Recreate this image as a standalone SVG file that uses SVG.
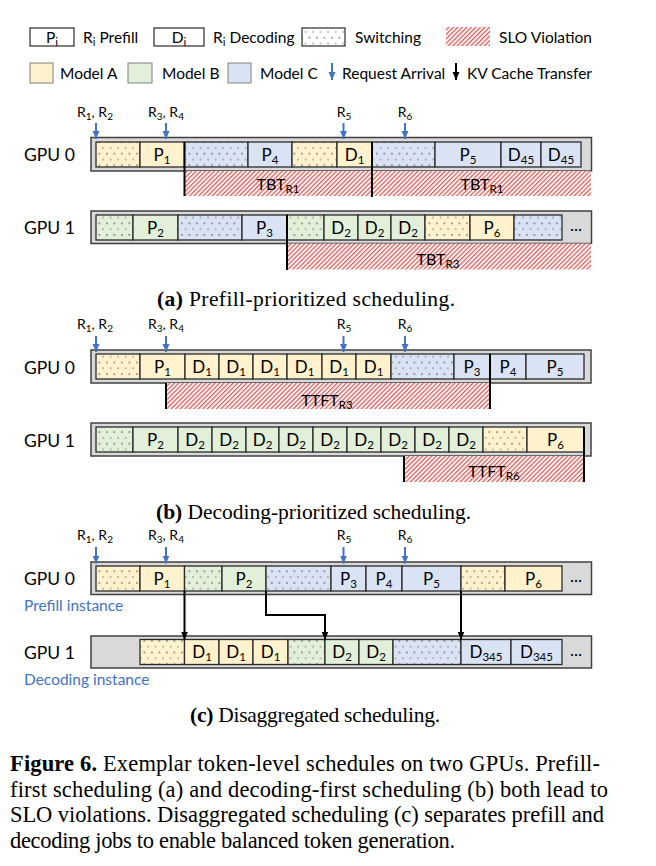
<svg xmlns="http://www.w3.org/2000/svg" width="656" height="866" viewBox="0 0 656 866">
<defs>
<style>
.t{font-family:Lato,"Liberation Sans",sans-serif;fill:#000}
.cl{font-size:17px;text-anchor:middle}
.sb{font-size:11.5px}
.lg{font-size:15.5px}
.gpu{font-size:17.5px}
.rl{font-size:14px;text-anchor:middle}
.rs{font-size:10px}
.slo{font-size:16px;text-anchor:middle}
.blue{fill:#4472c4;font-size:15.5px}
.cap{font-family:"Liberation Serif","DejaVu Serif",serif;font-size:21.5px;fill:#000}
.capm{font-family:"Liberation Serif","DejaVu Serif",serif;font-size:22.5px;fill:#000}
.bar{fill:#d9d9d9;stroke:#404040;stroke-width:1.5}
.c{stroke:#2b2b2b;stroke-width:1.3}
.A{fill:#fff2cc}.B{fill:#e2efd9}.C{fill:#dae3f3}
.sA{fill:url(#dA)}.sB{fill:url(#dB)}.sC{fill:url(#dC)}.sW{fill:url(#dW)}
.h{fill:url(#hatch)}
.vl{stroke:#000;stroke-width:2}
.req{stroke:#4472c4;stroke-width:2;fill:none;marker-end:url(#bh)}
.kv{stroke:#000;stroke-width:2;fill:none;marker-end:url(#kh)}
.lb{stroke:#7f7f7f;stroke-width:1}
</style>
<pattern id="dA" width="7.5" height="11.6" patternUnits="userSpaceOnUse"><rect width="7.5" height="11.6" fill="#fff2cc"/><circle cx="1.9" cy="2.9" r="0.8" fill="#3a3a3a"/><circle cx="5.6" cy="8.7" r="0.8" fill="#777"/></pattern>
<pattern id="dB" width="7.5" height="11.6" patternUnits="userSpaceOnUse"><rect width="7.5" height="11.6" fill="#e2efd9"/><circle cx="1.9" cy="2.9" r="0.8" fill="#3a3a3a"/><circle cx="5.6" cy="8.7" r="0.8" fill="#777"/></pattern>
<pattern id="dC" width="7.5" height="11.6" patternUnits="userSpaceOnUse"><rect width="7.5" height="11.6" fill="#dae3f3"/><circle cx="1.9" cy="2.9" r="0.8" fill="#3a3a3a"/><circle cx="5.6" cy="8.7" r="0.8" fill="#777"/></pattern>
<pattern id="dW" width="7.5" height="11.6" patternUnits="userSpaceOnUse"><rect width="7.5" height="11.6" fill="#fff"/><circle cx="1.9" cy="2.9" r="0.8" fill="#3a3a3a"/><circle cx="5.6" cy="8.7" r="0.8" fill="#777"/></pattern>
<pattern id="hatch" width="3.2" height="3.2" patternUnits="userSpaceOnUse" patternTransform="rotate(45)"><rect width="3.2" height="3.2" fill="#fdf1f1"/><rect width="1.1" height="3.2" fill="#d9534f"/></pattern>
<marker id="bh" markerUnits="userSpaceOnUse" markerWidth="8" markerHeight="8" viewBox="0 0 8 8" refX="8" refY="4" orient="auto"><path d="M0,0.5 L8,4 L0,7.5 z" fill="#4472c4"/></marker>
<marker id="kh" markerUnits="userSpaceOnUse" markerWidth="8" markerHeight="8" viewBox="0 0 8 8" refX="8" refY="4" orient="auto"><path d="M0,0.5 L8,4 L0,7.5 z" fill="#000"/></marker>
</defs>
<rect width="656" height="866" fill="#fff"/>

<g id="legend">
<rect x="30" y="28" width="44" height="18" fill="#fff" stroke="#000" stroke-width="1"/>
<text class="t lg" x="52" y="42.5" text-anchor="middle">P<tspan class="sb" dy="3">i</tspan></text>
<text class="t lg" x="83" y="42.5">R<tspan class="sb" dy="3">i</tspan><tspan dy="-3"> Prefill</tspan></text>
<rect x="154" y="28" width="50" height="18" fill="#fff" stroke="#000" stroke-width="1"/>
<text class="t lg" x="179" y="42.5" text-anchor="middle">D<tspan class="sb" dy="3">i</tspan></text>
<text class="t lg" x="213" y="42.5">R<tspan class="sb" dy="3">i</tspan><tspan dy="-3"> Decoding</tspan></text>
<rect x="302" y="28" width="43" height="18" class="sW" stroke="#000" stroke-width="1"/>
<text class="t lg" x="355" y="42.5">Switching</text>
<rect x="446" y="27" width="44" height="19" class="h"/>
<text class="t lg" x="499" y="42.5">SLO Violation</text>
<rect x="30" y="63" width="23" height="20" class="A lb"/>
<text class="t lg" x="60" y="78.5">Model A</text>
<rect x="128" y="63" width="24" height="20" class="B lb"/>
<text class="t lg" x="162" y="78.5">Model B</text>
<rect x="228" y="63" width="23" height="20" class="C lb"/>
<text class="t lg" x="260" y="78.5">Model C</text>
<line x1="332" y1="63" x2="332" y2="80" class="req"/>
<text class="t lg" x="342" y="78.5">Request Arrival</text>
<line x1="456" y1="63" x2="456" y2="80" class="kv"/>
<text class="t lg" x="467" y="78.5">KV Cache Transfer</text>
</g>

<!-- (a) -->
<g id="a-labels">
<text class="t rl" x="95" y="116.5">R<tspan class="rs" dy="3">1</tspan><tspan dy="-3">, R</tspan><tspan class="rs" dy="3">2</tspan></text>
<text class="t rl" x="166" y="116.5">R<tspan class="rs" dy="3">3</tspan><tspan dy="-3">, R</tspan><tspan class="rs" dy="3">4</tspan></text>
<text class="t rl" x="344" y="116.5">R<tspan class="rs" dy="3">5</tspan></text>
<text class="t rl" x="405" y="116.5">R<tspan class="rs" dy="3">6</tspan></text>
</g>
<g id="a-gpu0">
<text class="t gpu" x="24" y="161">GPU 0</text>
<rect class="bar" x="91" y="137.5" width="500.5" height="33.5"/>
<rect class="c sA" x="96" y="142" width="44" height="25"/>
<rect class="c A" x="140" y="142" width="44.5" height="25"/>
<rect class="c sC" x="184.5" y="142" width="63.5" height="25"/>
<rect class="c C" x="248" y="142" width="44" height="25"/>
<rect class="c sA" x="292" y="142" width="45" height="25"/>
<rect class="c A" x="337" y="142" width="35" height="25"/>
<rect class="c sC" x="372" y="142" width="63" height="25"/>
<rect class="c C" x="435" y="142" width="66" height="25"/>
<rect class="c C" x="501" y="142" width="40" height="25"/>
<rect class="c C" x="541" y="142" width="40" height="25"/>
<text class="t cl" x="162" y="160.5">P<tspan class="sb" dy="3">1</tspan></text>
<text class="t cl" x="270" y="160.5">P<tspan class="sb" dy="3">4</tspan></text>
<text class="t cl" x="354.5" y="160.5">D<tspan class="sb" dy="3">1</tspan></text>
<text class="t cl" x="468" y="160.5">P<tspan class="sb" dy="3">5</tspan></text>
<text class="t cl" x="521" y="160.5">D<tspan class="sb" dy="3">45</tspan></text>
<text class="t cl" x="561" y="160.5">D<tspan class="sb" dy="3">45</tspan></text>
<rect class="h" x="184.5" y="171" width="406.5" height="25"/>
<text class="t slo" x="278" y="190">TBT<tspan class="sb" dy="3">R1</tspan></text>
<text class="t slo" x="482" y="190">TBT<tspan class="sb" dy="3">R1</tspan></text>
<line class="vl" x1="184.5" y1="142" x2="184.5" y2="196"/>
<line class="vl" x1="372" y1="142" x2="372" y2="197"/>
</g>
<g id="a-gpu1">
<text class="t gpu" x="24" y="233.5">GPU 1</text>
<rect class="bar" x="91" y="211" width="500.5" height="32.5"/>
<rect class="c sB" x="96" y="215" width="37" height="25"/>
<rect class="c B" x="133" y="215" width="45" height="25"/>
<rect class="c sC" x="178" y="215" width="64" height="25"/>
<rect class="c C" x="242" y="215" width="45" height="25"/>
<rect class="c sB" x="287" y="215" width="37" height="25"/>
<rect class="c B" x="324" y="215" width="34" height="25"/>
<rect class="c B" x="358" y="215" width="33" height="25"/>
<rect class="c B" x="391" y="215" width="34" height="25"/>
<rect class="c sA" x="425" y="215" width="45" height="25"/>
<rect class="c A" x="470" y="215" width="44" height="25"/>
<rect class="c sC" x="514" y="215" width="48" height="25"/>
<text class="t cl" x="155.5" y="233.5">P<tspan class="sb" dy="3">2</tspan></text>
<text class="t cl" x="264.5" y="233.5">P<tspan class="sb" dy="3">3</tspan></text>
<text class="t cl" x="341" y="233.5">D<tspan class="sb" dy="3">2</tspan></text>
<text class="t cl" x="374.5" y="233.5">D<tspan class="sb" dy="3">2</tspan></text>
<text class="t cl" x="408" y="233.5">D<tspan class="sb" dy="3">2</tspan></text>
<text class="t cl" x="492" y="233.5">P<tspan class="sb" dy="3">6</tspan></text>
<text class="t cl" x="576" y="231">...</text>
<rect class="h" x="287" y="243.5" width="304" height="26"/>
<text class="t slo" x="438" y="265">TBT<tspan class="sb" dy="3">R3</tspan></text>
<line class="vl" x1="287" y1="215" x2="287" y2="270"/>
</g>
<text class="cap" x="157" y="306" textLength="298"><tspan font-weight="bold">(a)</tspan> Prefill-prioritized scheduling.</text>

<!-- (b) -->
<g id="b-labels">
<text class="t rl" x="95" y="329">R<tspan class="rs" dy="3">1</tspan><tspan dy="-3">, R</tspan><tspan class="rs" dy="3">2</tspan></text>
<text class="t rl" x="166" y="329">R<tspan class="rs" dy="3">3</tspan><tspan dy="-3">, R</tspan><tspan class="rs" dy="3">4</tspan></text>
<text class="t rl" x="344" y="329">R<tspan class="rs" dy="3">5</tspan></text>
<text class="t rl" x="405" y="329">R<tspan class="rs" dy="3">6</tspan></text>
</g>
<g id="b-gpu0">
<text class="t gpu" x="24" y="374">GPU 0</text>
<rect class="bar" x="91" y="350" width="500" height="33"/>
<rect class="c sA" x="96" y="354" width="44" height="25"/>
<rect class="c A" x="140" y="354" width="45" height="25"/>
<rect class="c A" x="185" y="354" width="34" height="25"/>
<rect class="c A" x="219" y="354" width="34" height="25"/>
<rect class="c A" x="253" y="354" width="34" height="25"/>
<rect class="c A" x="287" y="354" width="35" height="25"/>
<rect class="c A" x="322" y="354" width="34" height="25"/>
<rect class="c A" x="356" y="354" width="35" height="25"/>
<rect class="c sC" x="391" y="354" width="63" height="25"/>
<rect class="c C" x="454" y="354" width="36" height="25"/>
<rect class="c C" x="490" y="354" width="36" height="25"/>
<rect class="c C" x="526" y="354" width="58" height="25"/>
<text class="t cl" x="162.5" y="372.5">P<tspan class="sb" dy="3">1</tspan></text>
<text class="t cl" x="202" y="372.5">D<tspan class="sb" dy="3">1</tspan></text>
<text class="t cl" x="236" y="372.5">D<tspan class="sb" dy="3">1</tspan></text>
<text class="t cl" x="270" y="372.5">D<tspan class="sb" dy="3">1</tspan></text>
<text class="t cl" x="304.5" y="372.5">D<tspan class="sb" dy="3">1</tspan></text>
<text class="t cl" x="339" y="372.5">D<tspan class="sb" dy="3">1</tspan></text>
<text class="t cl" x="373.5" y="372.5">D<tspan class="sb" dy="3">1</tspan></text>
<text class="t cl" x="472" y="372.5">P<tspan class="sb" dy="3">3</tspan></text>
<text class="t cl" x="508" y="372.5">P<tspan class="sb" dy="3">4</tspan></text>
<text class="t cl" x="555" y="372.5">P<tspan class="sb" dy="3">5</tspan></text>
<rect class="h" x="166" y="383" width="324" height="26"/>
<text class="t slo" x="327" y="405.5">TTFT<tspan class="sb" dy="3">R3</tspan></text>
<line class="vl" x1="166" y1="383" x2="166" y2="409"/>
<line class="vl" x1="490" y1="354" x2="490" y2="409"/>
</g>
<g id="b-gpu1">
<text class="t gpu" x="24" y="447">GPU 1</text>
<rect class="bar" x="91" y="423" width="500" height="33"/>
<rect class="c sB" x="96" y="427" width="37" height="25"/>
<rect class="c B" x="133" y="427" width="45" height="25"/>
<rect class="c B" x="178" y="427" width="34" height="25"/>
<rect class="c B" x="212" y="427" width="34" height="25"/>
<rect class="c B" x="246" y="427" width="33" height="25"/>
<rect class="c B" x="279" y="427" width="34" height="25"/>
<rect class="c B" x="313" y="427" width="34" height="25"/>
<rect class="c B" x="347" y="427" width="34" height="25"/>
<rect class="c B" x="381" y="427" width="34" height="25"/>
<rect class="c B" x="415" y="427" width="34" height="25"/>
<rect class="c B" x="449" y="427" width="34" height="25"/>
<rect class="c sA" x="483" y="427" width="44" height="25"/>
<rect class="c A" x="527" y="427" width="57" height="25"/>
<text class="t cl" x="155.5" y="445.5">P<tspan class="sb" dy="3">2</tspan></text>
<text class="t cl" x="195" y="445.5">D<tspan class="sb" dy="3">2</tspan></text>
<text class="t cl" x="229" y="445.5">D<tspan class="sb" dy="3">2</tspan></text>
<text class="t cl" x="262.5" y="445.5">D<tspan class="sb" dy="3">2</tspan></text>
<text class="t cl" x="296" y="445.5">D<tspan class="sb" dy="3">2</tspan></text>
<text class="t cl" x="330" y="445.5">D<tspan class="sb" dy="3">2</tspan></text>
<text class="t cl" x="364" y="445.5">D<tspan class="sb" dy="3">2</tspan></text>
<text class="t cl" x="398" y="445.5">D<tspan class="sb" dy="3">2</tspan></text>
<text class="t cl" x="432" y="445.5">D<tspan class="sb" dy="3">2</tspan></text>
<text class="t cl" x="466" y="445.5">D<tspan class="sb" dy="3">2</tspan></text>
<text class="t cl" x="555.5" y="445.5">P<tspan class="sb" dy="3">6</tspan></text>
<rect class="h" x="404" y="456" width="180" height="26"/>
<text class="t slo" x="494" y="476.5">TTFT<tspan class="sb" dy="3">R6</tspan></text>
<line class="vl" x1="404" y1="456" x2="404" y2="482"/>
<line class="vl" x1="584" y1="427" x2="584" y2="482"/>
</g>
<text class="cap" x="156" y="519" textLength="315"><tspan font-weight="bold">(b)</tspan> Decoding-prioritized scheduling.</text>

<!-- (c) -->
<g id="c-labels">
<text class="t rl" x="95" y="540">R<tspan class="rs" dy="3">1</tspan><tspan dy="-3">, R</tspan><tspan class="rs" dy="3">2</tspan></text>
<text class="t rl" x="166" y="540">R<tspan class="rs" dy="3">3</tspan><tspan dy="-3">, R</tspan><tspan class="rs" dy="3">4</tspan></text>
<text class="t rl" x="344" y="540">R<tspan class="rs" dy="3">5</tspan></text>
<text class="t rl" x="405" y="540">R<tspan class="rs" dy="3">6</tspan></text>
</g>
<g id="c-gpu0">
<text class="t gpu" x="24" y="585">GPU 0</text>
<text class="t blue" x="24" y="611">Prefill instance</text>
<rect class="bar" x="91" y="562" width="500.5" height="32.5"/>
<rect class="c sA" x="96" y="566" width="44" height="25"/>
<rect class="c A" x="140" y="566" width="44.5" height="25"/>
<rect class="c sB" x="184.5" y="566" width="37.5" height="25"/>
<rect class="c B" x="222" y="566" width="44" height="25"/>
<rect class="c sC" x="266" y="566" width="65" height="25"/>
<rect class="c C" x="331" y="566" width="35" height="25"/>
<rect class="c C" x="366" y="566" width="36" height="25"/>
<rect class="c C" x="402" y="566" width="59" height="25"/>
<rect class="c sA" x="461" y="566" width="44" height="25"/>
<rect class="c A" x="505" y="566" width="57" height="25"/>
<text class="t cl" x="162" y="584.5">P<tspan class="sb" dy="3">1</tspan></text>
<text class="t cl" x="244" y="584.5">P<tspan class="sb" dy="3">2</tspan></text>
<text class="t cl" x="348.5" y="584.5">P<tspan class="sb" dy="3">3</tspan></text>
<text class="t cl" x="384" y="584.5">P<tspan class="sb" dy="3">4</tspan></text>
<text class="t cl" x="431.5" y="584.5">P<tspan class="sb" dy="3">5</tspan></text>
<text class="t cl" x="533.5" y="584.5">P<tspan class="sb" dy="3">6</tspan></text>
<text class="t cl" x="576" y="582">...</text>
</g>
<g id="c-gpu1">
<text class="t gpu" x="24" y="658.5">GPU 1</text>
<text class="t blue" x="24" y="685">Decoding instance</text>
<rect class="bar" x="91" y="636" width="500.5" height="32"/>
<rect class="c sA" x="140" y="639.5" width="44.5" height="25"/>
<rect class="c A" x="184.5" y="639.5" width="34.5" height="25"/>
<rect class="c A" x="219" y="639.5" width="34" height="25"/>
<rect class="c A" x="253" y="639.5" width="35" height="25"/>
<rect class="c sB" x="288" y="639.5" width="37" height="25"/>
<rect class="c B" x="325" y="639.5" width="34" height="25"/>
<rect class="c B" x="359" y="639.5" width="34" height="25"/>
<rect class="c sC" x="393" y="639.5" width="68" height="25"/>
<rect class="c C" x="461" y="639.5" width="50" height="25"/>
<rect class="c C" x="511" y="639.5" width="51" height="25"/>
<text class="t cl" x="202" y="658">D<tspan class="sb" dy="3">1</tspan></text>
<text class="t cl" x="236" y="658">D<tspan class="sb" dy="3">1</tspan></text>
<text class="t cl" x="270.5" y="658">D<tspan class="sb" dy="3">1</tspan></text>
<text class="t cl" x="342" y="658">D<tspan class="sb" dy="3">2</tspan></text>
<text class="t cl" x="376" y="658">D<tspan class="sb" dy="3">2</tspan></text>
<text class="t cl" x="486" y="658">D<tspan class="sb" dy="3">345</tspan></text>
<text class="t cl" x="536.5" y="658">D<tspan class="sb" dy="3">345</tspan></text>
<text class="t cl" x="576" y="655.5">...</text>
</g>
<text class="cap" x="190" y="722" textLength="250"><tspan font-weight="bold">(c)</tspan> Disaggregated scheduling.</text>

<g id="connectors">
<line class="req" x1="96" y1="123" x2="96" y2="139"/>
<line class="req" x1="166" y1="123" x2="166" y2="139"/>
<line class="req" x1="343.5" y1="123" x2="343.5" y2="139"/>
<line class="req" x1="405" y1="123" x2="405" y2="139"/>
<line class="req" x1="96" y1="336" x2="96" y2="352"/>
<line class="req" x1="166" y1="336" x2="166" y2="352"/>
<line class="req" x1="343.5" y1="336" x2="343.5" y2="352"/>
<line class="req" x1="405" y1="336" x2="405" y2="352"/>
<line class="req" x1="96" y1="547" x2="96" y2="563.5"/>
<line class="req" x1="166" y1="547" x2="166" y2="563.5"/>
<line class="req" x1="343.5" y1="547" x2="343.5" y2="563.5"/>
<line class="req" x1="405" y1="547" x2="405" y2="563.5"/>
<path class="kv" d="M184.5,591 V639.5"/>
<path class="kv" d="M266,591 V615 H325 V639.5"/>
<path class="kv" d="M461,591 V639.5"/>
</g>

<g id="caption">
<text class="capm" x="10" y="771" textLength="590"><tspan font-weight="bold">Figure 6.</tspan> Exemplar token-level schedules on two GPUs. Prefill-</text>
<text class="capm" x="10" y="797" textLength="598">first scheduling (a) and decoding-first scheduling (b) both lead to</text>
<text class="capm" x="10" y="822" textLength="594">SLO violations. Disaggregated scheduling (c) separates prefill and</text>
<text class="capm" x="10" y="848" textLength="445">decoding jobs to enable balanced token generation.</text>
</g>
</svg>
